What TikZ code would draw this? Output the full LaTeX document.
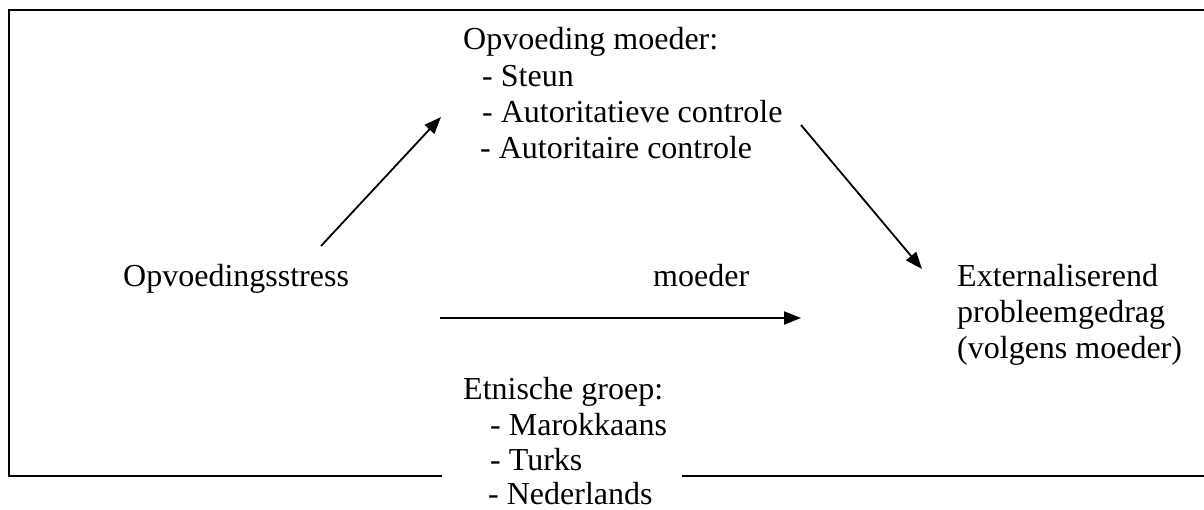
\documentclass[tikz,border=0pt]{standalone}
\usepackage{fontspec}
\setmainfont{Liberation Serif}
\usetikzlibrary{arrows.meta}
\begin{document}
\begin{tikzpicture}[x=1pt,y=-1pt,
  lbl/.style={anchor=base west,inner sep=0pt,font=\fontsize{32}{36.8}\selectfont},
  frame/.style={line width=2.2pt},
  conn/.style={line width=1.8pt,-{Triangle[length=17pt,width=13pt]}}]
\useasboundingbox (0,0) rectangle (1204,510);
% frame
\coordinate (tl) at (9,10);
\coordinate (tr) at (1204,10);
\coordinate (bl) at (9,476);
\coordinate (bg1) at (442,476);
\coordinate (bg2) at (682,476);
\coordinate (br) at (1204,476);
\draw[frame] (tr) -- (tl) -- (bl) -- (bg1);
\draw[frame] (bg2) -- (br);
% texts
\node[lbl] (om) at (463,50) {Opvoeding moeder:};
\node[lbl] (om1) at (482,87) {- Steun};
\node[lbl] (om2) at (482,123) {- Autoritatieve controle};
\node[lbl] (om3) at (480,159) {- Autoritaire controle};
\node[lbl] (os) at (123,287) {Opvoedingsstress};
\node[lbl] (mo) at (653,287) {moeder};
\node[lbl] (ex1) at (957,287) {Externaliserend};
\node[lbl] (ex2) at (957,323) {probleemgedrag};
\node[lbl] (ex3) at (957,359) {(volgens moeder)};
\node[lbl] (eg) at (463,399) {Etnische groep:};
\node[lbl] (eg1) at (490,435) {- Marokkaans};
\node[lbl] (eg2) at (490,470) {- Turks};
\node[lbl] (eg3) at (488,504) {- Nederlands};
% arrows
\coordinate (a1s) at (321,246);
\coordinate (a1e) at (441,117);
\coordinate (a2s) at (801,125);
\coordinate (a2e) at (922,269);
\coordinate (a3s) at (440,318);
\coordinate (a3e) at (801,318);
\draw[conn] (a1s) -- (a1e);
\draw[conn] (a2s) -- (a2e);
\draw[conn] (a3s) -- (a3e);
\end{tikzpicture}
\end{document}
